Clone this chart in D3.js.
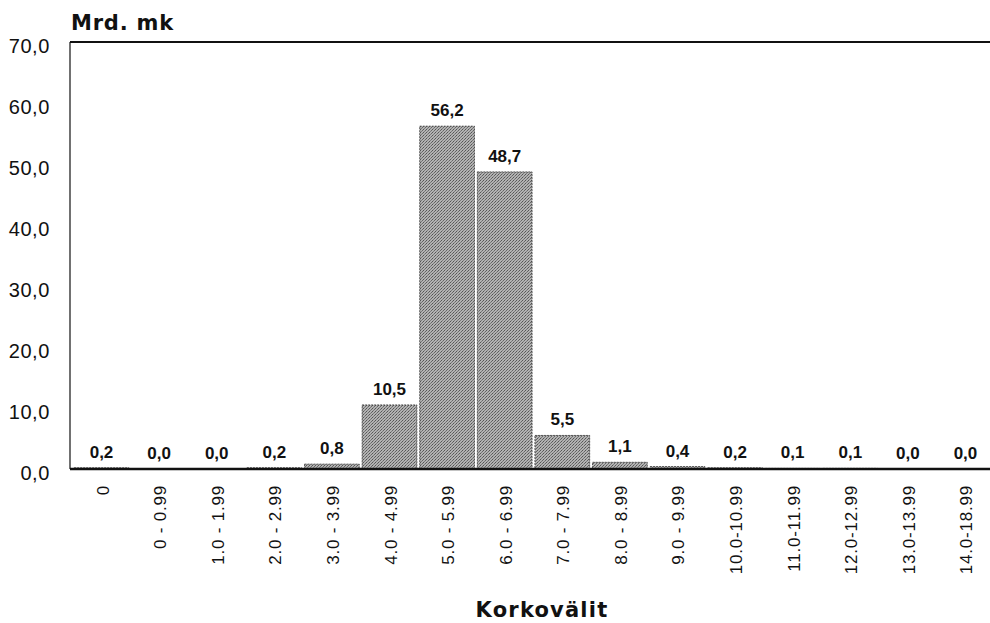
<!DOCTYPE html>
<html>
    <head>
        <meta charset="UTF-8">
        <title>korkovalit</title>
        <style type="text/css">
            body {
                margin: 0;
                background: #ffffff;
                font-family: "Liberation Sans", Arial, sans-serif;
            }
            #chart text {
                fill: #111111;
            }
        </style>
        <script src="https://d3js.org/d3.v7.min.js"></script>
    </head>
    <body>
        <div id="chart"></div>
        <script>
            const categories = ["0", "0 - 0.99", "1.0 - 1.99", "2.0 - 2.99", "3.0 - 3.99", "4.0 - 4.99",
                "5.0 - 5.99", "6.0 - 6.99", "7.0 - 7.99", "8.0 - 8.99", "9.0 - 9.99", "10.0-10.99",
                "11.0-11.99", "12.0-12.99", "13.0-13.99", "14.0-18.99"];
            const values = [0.2, 0.0, 0.0, 0.2, 0.8, 10.5, 56.2, 48.7, 5.5, 1.1, 0.4, 0.2, 0.1, 0.1, 0.0, 0.0];
            const yTicks = [0, 10, 20, 30, 40, 50, 60, 70];

            const width = 990, height = 623;
            const plotLeft = 70, plotRight = 990, plotTop = 42, plotBottom = 469;

            const fmt = (v) => v.toFixed(1).replace(".", ",");

            const svg = d3.select("#chart").append("svg")
                .attr("width", width)
                .attr("height", height);

            // halftone-ish fill for the bars
            const defs = svg.append("defs");
            const pat = defs.append("pattern")
                .attr("id", "dots")
                .attr("width", 3).attr("height", 3)
                .attr("patternUnits", "userSpaceOnUse");
            pat.append("rect").attr("width", 3).attr("height", 3).attr("fill", "#b2b2b2");
            pat.append("rect").attr("x", 0).attr("y", 0).attr("width", 1).attr("height", 1).attr("fill", "#555");
            pat.append("rect").attr("x", 2).attr("y", 1).attr("width", 1).attr("height", 1).attr("fill", "#666");
            pat.append("rect").attr("x", 1).attr("y", 2).attr("width", 1).attr("height", 1).attr("fill", "#7a7a7a");

            const x = d3.scaleBand()
                .domain(categories)
                .range([73, 994])
                .paddingInner(0.05)
                .paddingOuter(0.02);

            const y = d3.scaleLinear()
                .domain([0, 70])
                .range([plotBottom, plotTop]);

            // y tick labels
            svg.append("g").selectAll("text")
                .data(yTicks)
                .join("text")
                .attr("x", 50)
                .attr("y", d => y(d) + 11)
                .attr("text-anchor", "end")
                .attr("font-size", 20)
                .attr("letter-spacing", 0.6)
                .text(d => fmt(d));

            // bars
            svg.append("g").selectAll("rect")
                .data(values)
                .join("rect")
                .attr("x", (d, i) => x(categories[i]))
                .attr("y", d => y(d))
                .attr("width", x.bandwidth())
                .attr("height", d => plotBottom - y(d))
                .attr("fill", "url(#dots)")
                .attr("stroke", "#333")
                .attr("stroke-width", 0.8)
                .attr("stroke-dasharray", "2,1");

            // value labels
            svg.append("g").selectAll("text")
                .data(values)
                .join("text")
                .attr("x", (d, i) => x(categories[i]) + x.bandwidth() / 2)
                .attr("y", d => y(d) - 10)
                .attr("text-anchor", "middle")
                .attr("font-size", 17)
                .attr("font-weight", "bold")
                .text(d => fmt(d));

            // frame lines: left axis, top border, baseline
            svg.append("line")
                .attr("x1", plotLeft).attr("x2", plotLeft)
                .attr("y1", plotTop).attr("y2", plotBottom)
                .attr("stroke", "#111").attr("stroke-width", 1.2);
            svg.append("line")
                .attr("x1", plotLeft).attr("x2", plotRight)
                .attr("y1", plotTop).attr("y2", plotTop)
                .attr("stroke", "#111").attr("stroke-width", 2);
            svg.append("line")
                .attr("x1", plotLeft).attr("x2", plotRight)
                .attr("y1", plotBottom).attr("y2", plotBottom)
                .attr("stroke", "#111").attr("stroke-width", 2.5);

            // x category labels, rotated
            svg.append("g").selectAll("text")
                .data(categories)
                .join("text")
                .attr("transform", d => `translate(${x(d) + x.bandwidth() / 2 + 7}, 485) rotate(-90)`)
                .attr("text-anchor", "end")
                .attr("font-size", 17)
                .attr("letter-spacing", 0.8)
                .text(d => d);

            // titles
            svg.append("text")
                .attr("x", 71).attr("y", 30)
                .attr("font-family", "DejaVu Sans")
                .attr("font-size", 21)
                .attr("font-weight", "bold")
                .attr("letter-spacing", 0.8)
                .text("Mrd. mk");
            svg.append("text")
                .attr("x", 542).attr("y", 617)
                .attr("text-anchor", "middle")
                .attr("font-family", "DejaVu Sans")
                .attr("font-size", 21)
                .attr("font-weight", "bold")
                .attr("letter-spacing", 1.2)
                .text("Korkovälit");
        </script>
    </body>
</html>
